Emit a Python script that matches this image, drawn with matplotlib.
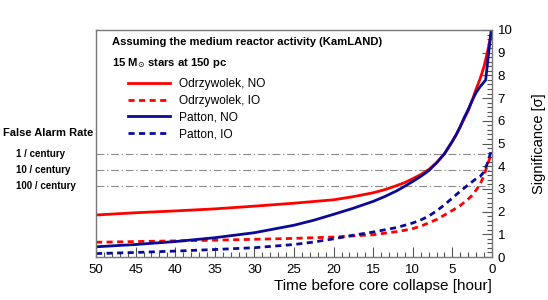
import numpy as np
import matplotlib
matplotlib.use("Agg")
import matplotlib.pyplot as plt
from matplotlib.ticker import MultipleLocator

plt.rcParams['font.family'] = ['Liberation Sans', 'DejaVu Sans']

# hours before core collapse / significance [sigma]
t_odr_no = [50, 45, 40, 35, 30, 25, 20, 17.5, 15, 13.5, 12, 11, 10, 9, 8, 7, 6, 5, 4.5, 4, 3.5, 3, 2.5, 2, 1.5, 1, 0.5, 0]
s_odr_no = [1.85, 1.95, 2.03, 2.12, 2.24, 2.37, 2.52, 2.66, 2.83, 2.97, 3.15, 3.28, 3.45, 3.63, 3.85, 4.15, 4.55, 5.1, 5.4, 5.75, 6.1, 6.45, 6.9, 7.4, 7.85, 8.4, 9.15, 10.0]

t_pat_no = [50, 45, 40, 35, 30, 25, 22.5, 20, 17.5, 15, 13.5, 12, 11, 10, 9, 8, 7, 6, 5, 4.5, 4, 3.5, 3, 2.5, 2, 1.5, 0.8, 0.1]
s_pat_no = [0.45, 0.55, 0.68, 0.85, 1.07, 1.4, 1.62, 1.88, 2.15, 2.45, 2.67, 2.92, 3.12, 3.33, 3.55, 3.8, 4.15, 4.55, 5.1, 5.4, 5.75, 6.15, 6.5, 6.9, 7.25, 7.5, 7.8, 10.0]

t_odr_io = [50, 45, 40, 35, 30, 25, 20, 15, 13.5, 12, 11, 10, 9, 8, 7, 6, 5, 4, 3, 2.5, 2, 1.5, 1, 0.5, 0]
s_odr_io = [0.65, 0.68, 0.71, 0.74, 0.78, 0.82, 0.88, 0.98, 1.05, 1.12, 1.18, 1.25, 1.36, 1.5, 1.65, 1.85, 2.05, 2.27, 2.55, 2.72, 2.95, 3.2, 3.6, 4.15, 4.6]

t_pat_io = [50, 45, 40, 35, 30, 25, 22.5, 20, 17.5, 15, 12, 10, 9, 8, 7, 6, 5, 4, 3, 2, 1.5, 1, 0.5, 0]
s_pat_io = [0.15, 0.2, 0.26, 0.33, 0.41, 0.55, 0.66, 0.8, 0.96, 1.1, 1.3, 1.5, 1.63, 1.8, 2.03, 2.3, 2.6, 2.9, 3.18, 3.45, 3.55, 3.75, 4.2, 4.8]

far_labels = ["1 / century", "10 / century", "100 / century"]
far_levels = [4.55, 3.85, 3.13]

RED = "#ff0000"
BLUE = "#0a0a96"

fig = plt.figure(figsize=(5.48, 3.0), dpi=100)
ax = fig.add_axes([96 / 548, 43 / 300, 396 / 548, 227 / 300])

for lvl in far_levels:
    ax.axhline(lvl, color="#8c8c8c", lw=0.8, ls=(0, (7, 2.5, 1.2, 2.5)))

ax.plot(t_odr_no, s_odr_no, color=RED, lw=2.0, label="Odrzywolek, NO")
ax.plot(t_odr_io, s_odr_io, color=RED, lw=2.0, ls=(0, (2.2, 1.6)), label="Odrzywolek, IO")
ax.plot(t_pat_no, s_pat_no, color=BLUE, lw=2.0, label="Patton, NO")
ax.plot(t_pat_io, s_pat_io, color=BLUE, lw=2.0, ls=(0, (2.2, 1.6)), label="Patton, IO")

ax.set_xlim(50, 0)
ax.set_ylim(0, 10)

ax.xaxis.set_major_locator(MultipleLocator(5))
ax.xaxis.set_minor_locator(MultipleLocator(1))
ax.yaxis.set_major_locator(MultipleLocator(1))
ax.yaxis.set_minor_locator(MultipleLocator(0.2))
ax.yaxis.tick_right()
ax.yaxis.set_label_position("right")
ax.tick_params(axis="both", which="both", direction="in", color="#555555", labelsize=9.5)
ax.tick_params(axis="both", which="major", length=7, width=0.8)
ax.tick_params(axis="both", which="minor", length=3.5, width=0.8)
ax.tick_params(axis="x", pad=5)
ax.tick_params(axis="y", pad=4)
for sp in ax.spines.values():
    sp.set_color("#777777")
    sp.set_linewidth(1.0)

ax.set_xlabel("Time before core collapse [hour]", fontsize=11, ha="right", x=1.0, labelpad=2)
ax.set_ylabel("Significance [σ]", fontsize=10.5, labelpad=14)

fig.text(112 / 548, 1 - 42 / 300, "Assuming the medium reactor activity (KamLAND)",
         fontsize=8.1, fontweight="bold", va="center")
fig.text(112 / 548, 1 - 63 / 300, r"15 M$_{\odot}$ stars at 150 pc",
         fontsize=8.1, fontweight="bold", va="center")

ax.legend(loc="upper left", bbox_to_anchor=(122 / 548, 1 - 72 / 300),
          bbox_transform=fig.transFigure, frameon=False, fontsize=8.6,
          handlelength=3.5, handletextpad=0.8, labelspacing=0.4, borderpad=0)

fig.text(3 / 548, 1 - 133 / 300, "False Alarm Rate", fontsize=8.0, fontweight="bold", va="center")
for lab, lvl in zip(far_labels, far_levels):
    ypix = 257 - lvl * 22.7
    fig.text(16 / 548, 1 - ypix / 300, lab, fontsize=7.0, fontweight="bold", va="center")

fig.savefig("out.png", dpi=100)
